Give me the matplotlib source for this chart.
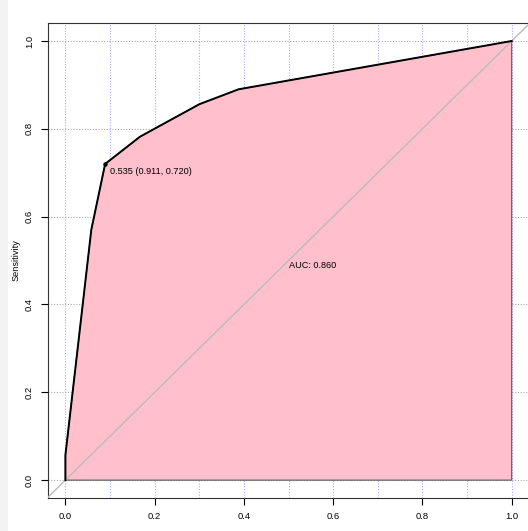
import matplotlib
matplotlib.use("Agg")
import matplotlib.pyplot as plt
from matplotlib.patches import Polygon, Rectangle

plt.rcParams['font.family'] = ['Liberation Sans', 'DejaVu Sans']

# ROC curve (x = 1 - specificity, y = sensitivity)
fpr = [0.0, 0.0, 0.058, 0.089, 0.167, 0.300, 0.388, 1.0]
tpr = [0.0, 0.057, 0.570, 0.720, 0.782, 0.856, 0.890, 1.0]
best_fpr, best_tpr = 0.089, 0.720
best_label = "0.535 (0.911, 0.720)"
auc_label = "AUC: 0.860"
xticks = [0.0, 0.2, 0.4, 0.6, 0.8, 1.0]
yticks = [0.0, 0.2, 0.4, 0.6, 0.8, 1.0]
xgrid = [i / 10 for i in range(11)]
ygrid = [0.0, 0.2, 0.4, 0.6, 0.8, 1.0]

W, H = 528, 531
fig = plt.figure(figsize=(W / 100, H / 100), dpi=100)
fig.patches.append(Rectangle((0, 0), 8 / W, 1, transform=fig.transFigure,
                             facecolor='#f3f3f3', edgecolor='none', zorder=-5))
ax = fig.add_axes([48 / W, 33.3 / H, 482 / W, 474.7 / H])
ax.set_zorder(2)
ax.set_xlim(-0.039, 1.041)
ax.set_ylim(-0.040, 1.041)

for gx in xgrid:
    ax.axvline(gx, color='#aaaaff', lw=0.8, ls=(0, (1, 1.5)), zorder=1)
for gy in ygrid:
    ax.axhline(gy, color='#aaaaaa', lw=0.8, ls=(0, (1, 1.5)), zorder=1)

poly_pts = list(zip(fpr, tpr)) + [(1.0, 0.0), (0.0, 0.0)]
ax.add_patch(Polygon(poly_pts, closed=True, facecolor='#ffc0cb',
                     edgecolor='#555555', lw=0.8, zorder=2))

ax.plot([-0.1, 1.1], [-0.1, 1.1], color='#bbbbbb', lw=1.0, zorder=3)
ax.plot(fpr, tpr, color='black', lw=1.4, zorder=4)
ax.plot([best_fpr], [best_tpr], 'o', color='black', ms=2.2, zorder=5)
ax.text(0.100, 0.714, best_label, ha='left', va='top', fontsize=6.6, zorder=6)
ax.text(0.500, 0.500, auc_label, ha='left', va='top', fontsize=6.6, zorder=6)

ax.set_xticks(xticks)
ax.set_xticklabels([f"{v:.1f}" for v in xticks])
ax.set_yticks(yticks)
ax.set_yticklabels([f"{v:.1f}" for v in yticks], rotation=90, va='center')
ax.tick_params(axis='both', direction='out', length=5, width=0.8,
               labelsize=6.8, pad=5)
ax.set_xlabel("1 - Specificity", fontsize=6.6, labelpad=8)
ax.set_ylabel("Sensitivity", fontsize=6.6, labelpad=3)
for s in ax.spines.values():
    s.set_linewidth(0.8)
    s.set_color('#333333')

fig.savefig("out.png", dpi=100)
